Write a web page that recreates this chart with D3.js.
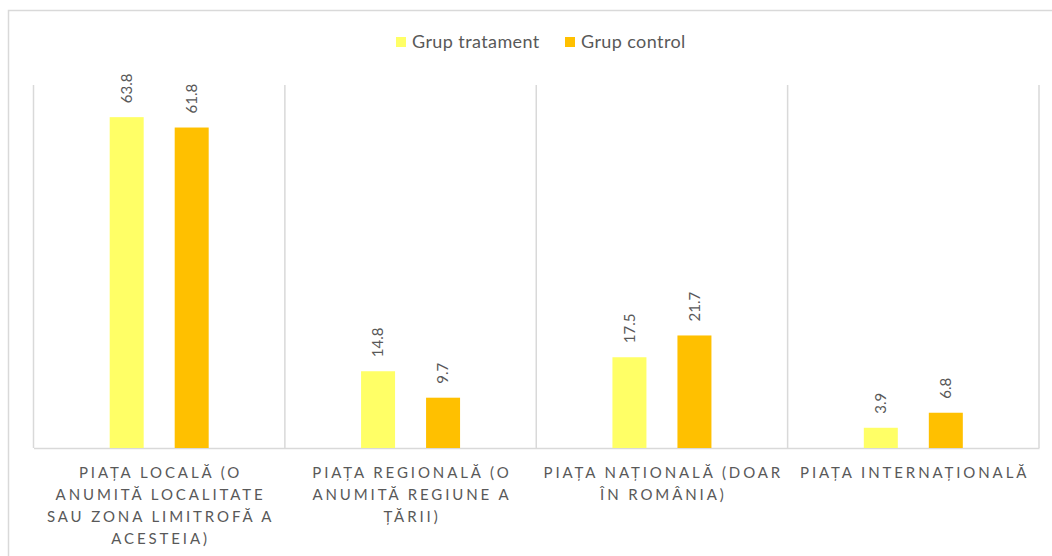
<!DOCTYPE html>
<html>
<head>
<meta charset="utf-8">
<script src="https://cdn.jsdelivr.net/npm/d3@7"></script>
<style>
  html, body { margin: 0; padding: 0; background: #fff; }
  svg { display: block; }
  text { font-family: Lato, "Open Sans", sans-serif; fill: #595959; }
</style>
</head>
<body>
<svg id="chart" width="1052" height="556"></svg>
<script>
// Market categories, each label pre-split into its wrapped lines
const categories = ["local", "regional", "national", "international"];
const categoryLines = [
  ["PIAȚA LOCALĂ (O", "ANUMITĂ LOCALITATE", "SAU ZONA LIMITROFĂ A", "ACESTEIA)"],
  ["PIAȚA REGIONALĂ (O", "ANUMITĂ REGIUNE A", "ȚĂRII)"],
  ["PIAȚA NAȚIONALĂ (DOAR", "ÎN ROMÂNIA)"],
  ["PIAȚA INTERNAȚIONALĂ"]
];
const seriesNames = ["Grup tratament", "Grup control"];
const treatmentValues = [63.8, 14.8, 17.5, 3.9];
const controlValues = [61.8, 9.7, 21.7, 6.8];
const seriesColors = ["#FFFF66", "#FFC000"];

const seriesValues = [treatmentValues, controlValues];

const svg = d3.select("#chart");

// Outer chart frame
svg.append("rect")
  .attr("x", 8.5).attr("y", 10.5)
  .attr("width", 1100).attr("height", 600)
  .attr("fill", "none").attr("stroke", "#D9D9D9").attr("stroke-width", 1.5);

const plot = { left: 33.5, right: 1039, top: 85, bottom: 448 };

const x0 = d3.scaleBand()
  .domain(categories)
  .range([plot.left, plot.right])
  .padding(0);

const groupWidth = 99;
const x1 = d3.scaleBand()
  .domain(seriesNames)
  .range([0, groupWidth])
  .paddingInner(0.477)
  .paddingOuter(0);

const y = d3.scaleLinear()
  .domain([0, 70])
  .range([plot.bottom, plot.top]);

// Vertical category separators
const edges = categories.map(c => x0(c)).concat([x0.range()[1]]);
svg.append("g").selectAll("line")
  .data(edges)
  .join("line")
  .attr("x1", d => d).attr("x2", d => d)
  .attr("y1", plot.top).attr("y2", plot.bottom)
  .attr("stroke", "#D9D9D9").attr("stroke-width", 1.5);

// Category axis
const xAxis = svg.append("g")
  .attr("transform", `translate(0,${plot.bottom})`)
  .call(d3.axisBottom(x0).tickSize(0).tickFormat(""));
xAxis.select(".domain").attr("stroke", "#D9D9D9").attr("stroke-width", 1.5);

// Wrapped category labels
const labelGroups = svg.append("g").selectAll("text")
  .data(categories)
  .join("text")
  .attr("text-anchor", "middle")
  .attr("font-size", 15)
  .attr("letter-spacing", "2.9px");
labelGroups.each(function(c, i) {
  const t = d3.select(this);
  const cx = x0(c) + x0.bandwidth() / 2;
  categoryLines[i].forEach((line, k) => {
    t.append("tspan")
      .attr("x", cx + 1.4)
      .attr("y", 478 + k * 22)
      .text(line);
  });
});

// Bars
const offset = (x0.bandwidth() - groupWidth) / 2;
const groups = svg.append("g").selectAll("g")
  .data(categories)
  .join("g")
  .attr("transform", c => `translate(${x0(c) + offset},0)`);

groups.selectAll("rect")
  .data((c, i) => seriesNames.map((s, j) => ({ s, j, v: seriesValues[j][i] })))
  .join("rect")
  .attr("x", d => x1(d.s))
  .attr("y", d => y(d.v))
  .attr("width", x1.bandwidth())
  .attr("height", d => y(0) - y(d.v))
  .attr("fill", d => seriesColors[d.j]);

// Rotated value labels above the bars
groups.selectAll("text")
  .data((c, i) => seriesNames.map((s, j) => ({ s, j, v: seriesValues[j][i] })))
  .join("text")
  .attr("transform", d => `translate(${x1(d.s) + x1.bandwidth() / 2},${y(d.v) - 14}) rotate(-90)`)
  .attr("dy", "0.35em")
  .attr("font-size", 15)
  .text(d => d.v.toFixed(1));

// Legend
const legendItems = [
  { name: seriesNames[0], color: seriesColors[0], x: 396 },
  { name: seriesNames[1], color: seriesColors[1], x: 565 }
];
const legend = svg.append("g").selectAll("g")
  .data(legendItems)
  .join("g")
  .attr("transform", d => `translate(${d.x},37)`);
legend.append("rect")
  .attr("width", 10).attr("height", 10)
  .attr("fill", d => d.color);
legend.append("text")
  .attr("x", 16).attr("y", 10.5)
  .attr("font-size", 18)
  .attr("letter-spacing", "0.4px")
  .text(d => d.name);
</script>
</body>
</html>
